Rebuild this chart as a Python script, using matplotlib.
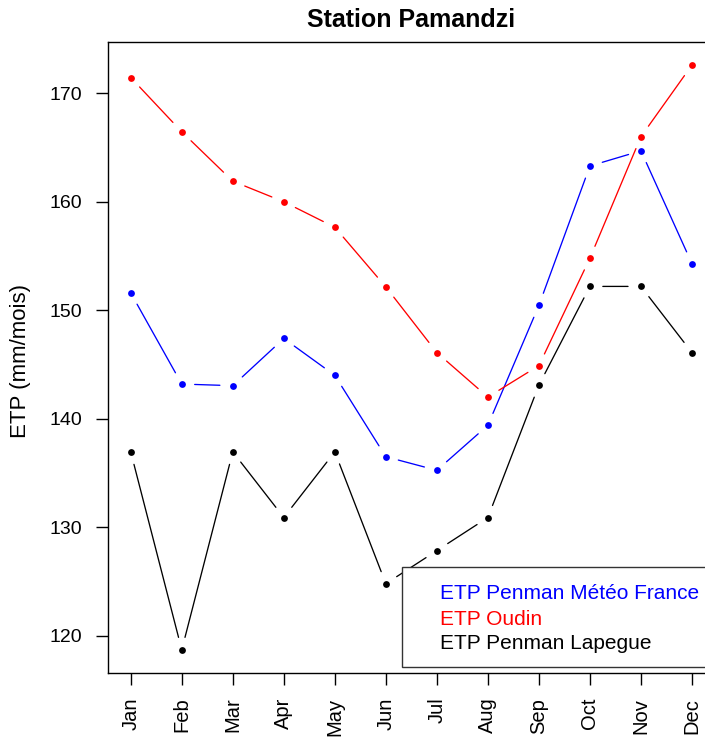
import matplotlib
matplotlib.use("Agg")
import matplotlib.pyplot as plt
from matplotlib.patches import Rectangle

plt.rcParams['font.family'] = ['Liberation Sans', 'DejaVu Sans']

months = ["Jan", "Feb", "Mar", "Apr", "May", "Jun", "Jul", "Aug", "Sep", "Oct", "Nov", "Dec"]
etp_penman_mf = [151.6, 143.2, 143.05, 147.4, 144.0, 136.5, 135.25, 139.4, 150.45, 163.3, 164.7, 154.3]
etp_oudin = [171.45, 166.45, 161.9, 160.0, 157.65, 152.15, 146.1, 142.0, 144.9, 154.8, 166.0, 172.6]
etp_penman_lapegue = [136.95, 118.7, 136.95, 130.9, 136.95, 124.8, 127.85, 130.9, 143.1, 152.2, 152.2, 146.1]

series_labels = ["ETP Penman Météo France", "ETP Oudin", "ETP Penman Lapegue"]
series_values = [etp_penman_mf, etp_oudin, etp_penman_lapegue]
series_colors = ["#0000FF", "#FF0000", "#000000"]

W, H = 705, 740
fig = plt.figure(figsize=(W / 100, H / 100), dpi=100)
ax_l, ax_r, ax_t, ax_b = 108.3, 714.4, 42.3, 673.3
ax = fig.add_axes([ax_l / W, 1 - ax_b / H, (ax_r - ax_l) / W, (ax_b - ax_t) / H])

x = list(range(1, len(months) + 1))
ax.set_xlim(0.56, 12.44)
ax.set_ylim(116.54, 174.70)

gap = 9.3  # points
for vals, col in zip(series_values, series_colors):
    for i in range(len(x) - 1):
        ax.annotate("", xy=(x[i + 1], vals[i + 1]), xytext=(x[i], vals[i]),
                    arrowprops=dict(arrowstyle="-", color=col, lw=0.95,
                                    shrinkA=gap, shrinkB=gap))
    ax.plot(x, vals, linestyle="none", marker="o", markersize=4.9,
            color=col, markeredgewidth=0)

ax.set_xticks(x)
ax.set_xticklabels(months, rotation=90, fontsize=14.5)
ax.set_yticks([120, 130, 140, 150, 160, 170])
ax.set_yticklabels(["120", "130", "140", "150", "160", "170"], fontsize=14)
ax.tick_params(axis="both", direction="out", length=8.6, width=1.0)
ax.tick_params(axis="y", pad=10.3)
ax.tick_params(axis="x", pad=9.0)
for s in ax.spines.values():
    s.set_linewidth(1.0)

ax.set_title("Station Pamandzi", fontsize=18, fontweight="bold", pad=11)
fig.text(20.5 / W, 1 - 360.5 / H, "ETP (mm/mois)", rotation=90, ha="center",
         va="center", fontsize=16)

# legend box
ax.add_patch(Rectangle((0.484, 0.0105), 0.51, 0.1585, transform=ax.transAxes,
                       facecolor="white", edgecolor="#333333", lw=1.0, zorder=5))
legend_y = [0.1173, 0.0765, 0.038]
for lab, col, yy in zip(series_labels, series_colors, legend_y):
    ax.text(0.547, yy, lab, color=col, fontsize=15, transform=ax.transAxes,
            ha="left", va="baseline", zorder=6)

fig.savefig("out.png", dpi=100)
